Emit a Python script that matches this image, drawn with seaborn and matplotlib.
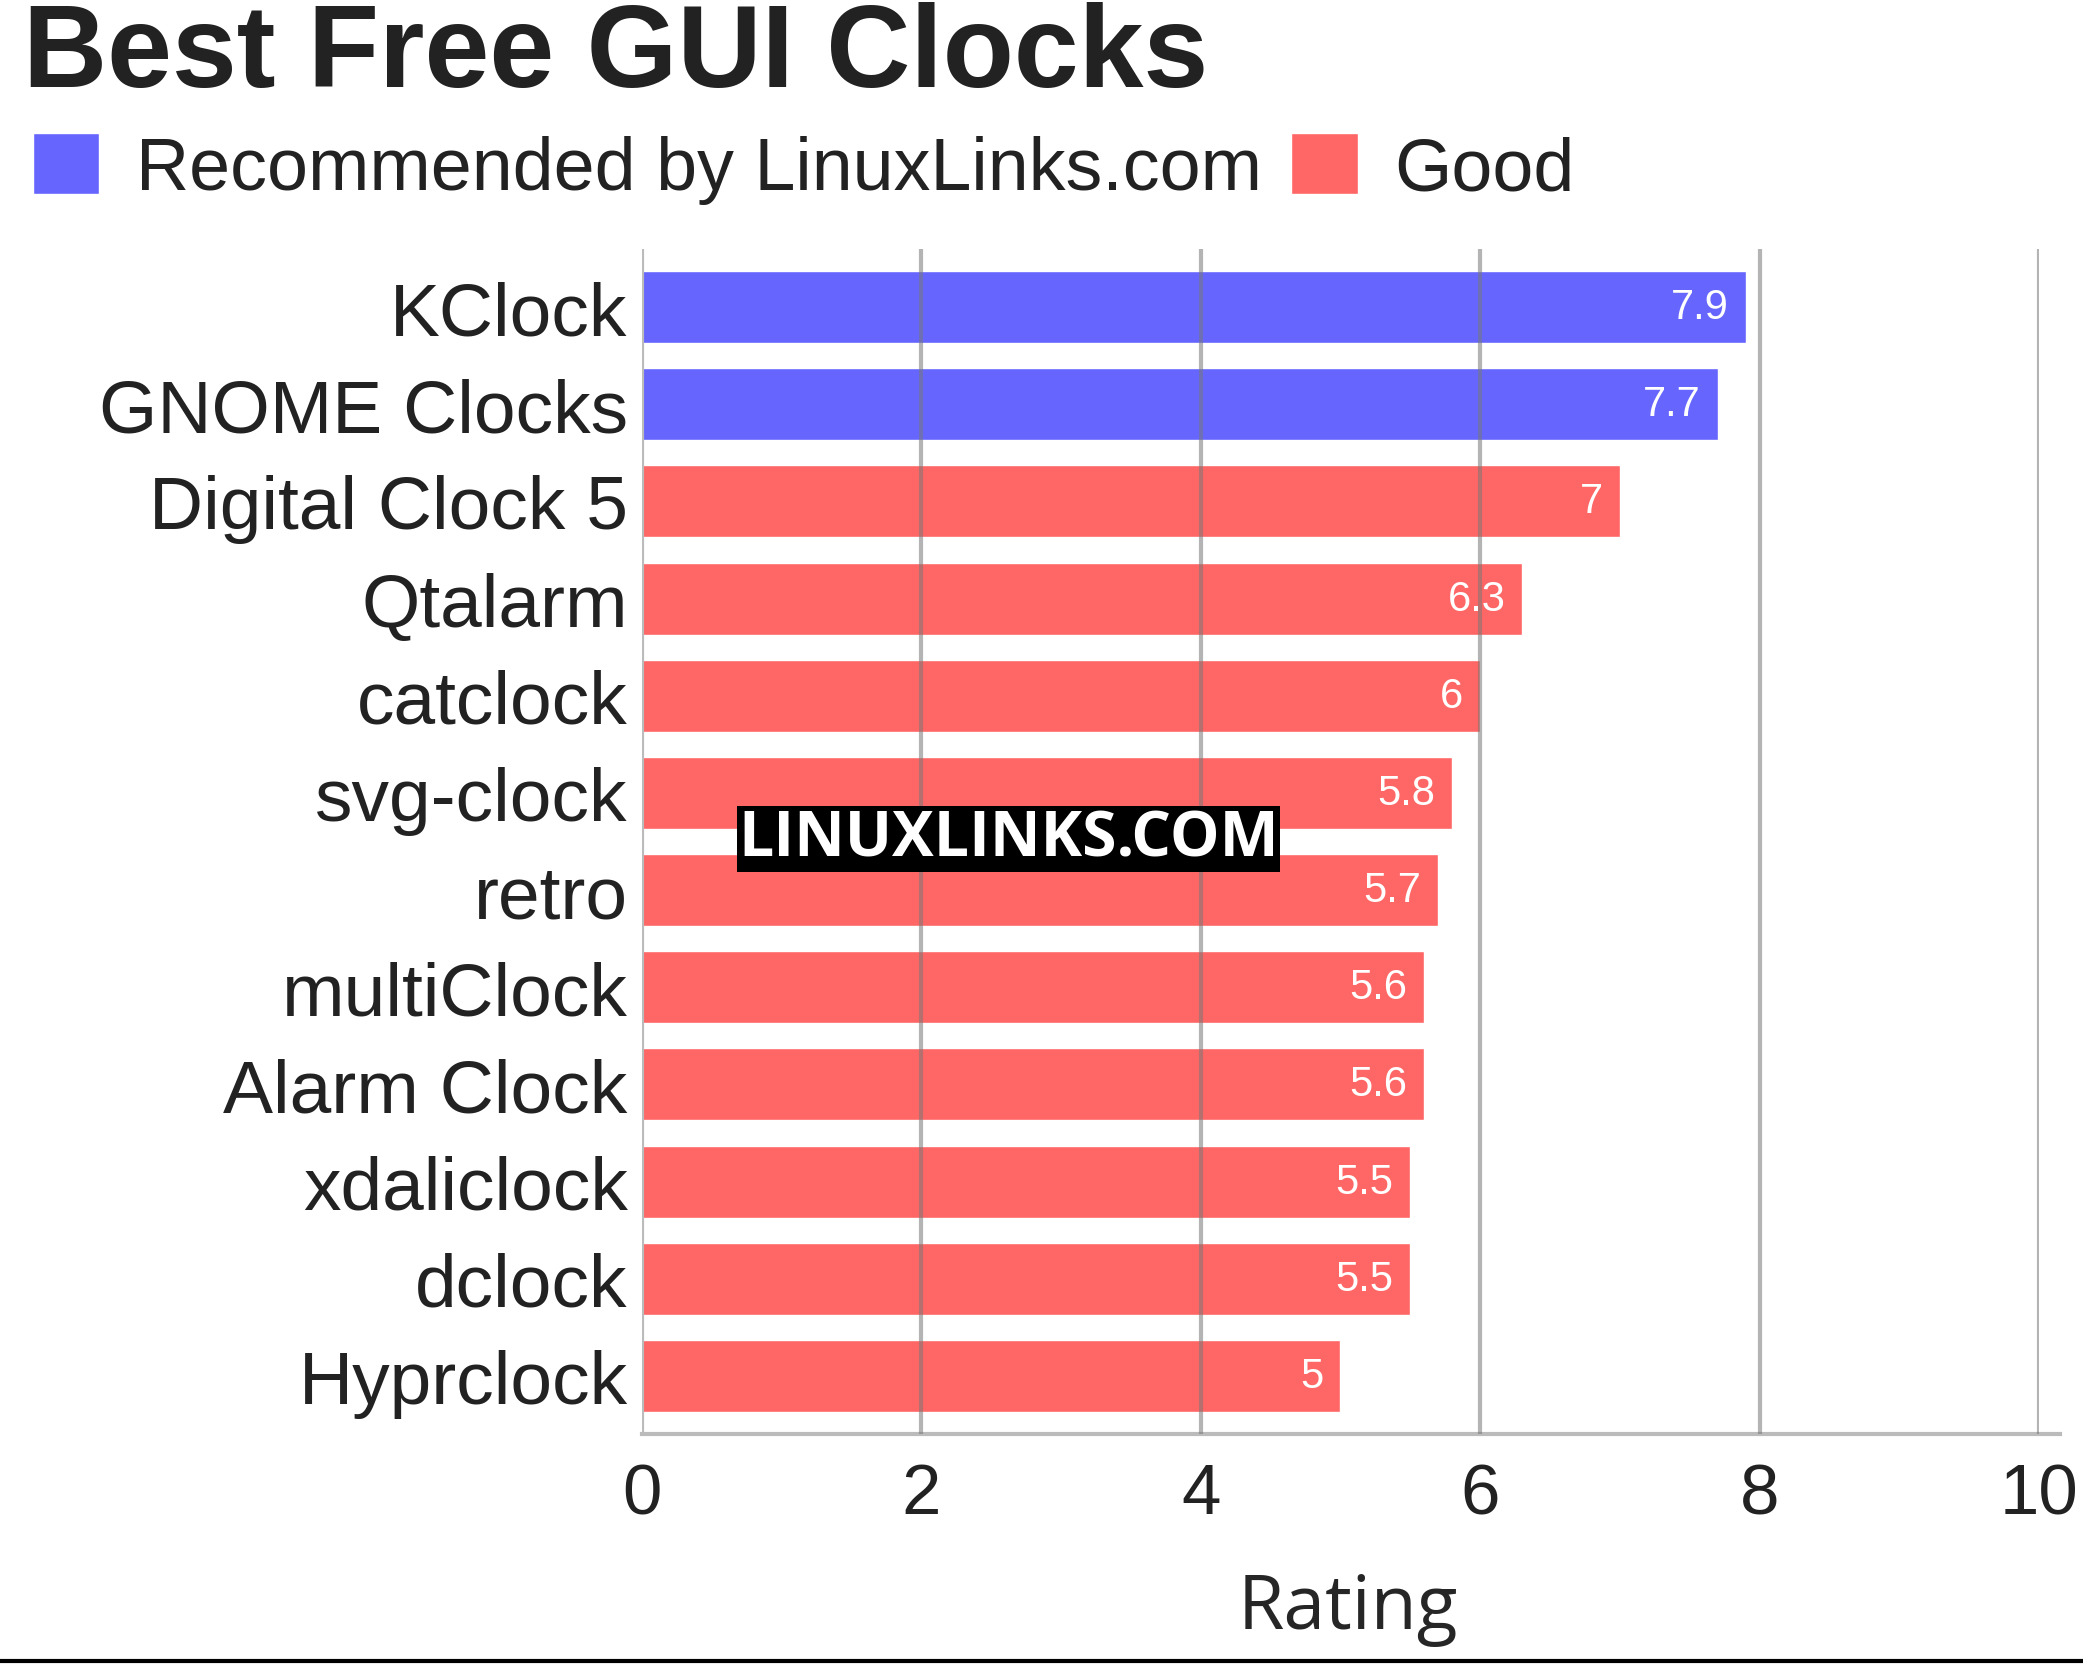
import matplotlib
matplotlib.use("Agg")
import matplotlib.pyplot as plt
import seaborn as sns
import pandas as pd
from matplotlib.patches import Patch
from matplotlib.lines import Line2D

names = ["KClock", "GNOME Clocks", "Digital Clock 5", "Qtalarm", "catclock", "svg-clock",
         "retro", "multiClock", "Alarm Clock", "xdaliclock", "dclock", "Hyprclock"]
ratings = [7.9, 7.7, 7.0, 6.3, 6.0, 5.8, 5.7, 5.6, 5.6, 5.5, 5.5, 5.0]
groups = ["Recommended by LinuxLinks.com"] * 2 + ["Good"] * 10
palette = {"Recommended by LinuxLinks.com": "#6666ff", "Good": "#ff6666"}

df = pd.DataFrame({"name": names, "rating": ratings, "group": groups})

sns.set_style("white")
plt.rcParams["font.family"] = ["Liberation Sans", "DejaVu Sans"]

fig = plt.figure(figsize=(20.83, 16.65), dpi=100)
ax = fig.add_axes([0.308, 0.138, 0.671, 0.712])
sns.barplot(data=df, y="name", x="rating", hue="group", palette=palette, dodge=False,
            width=0.74, saturation=1, legend=False, ax=ax)
ax.set_xlim(0, 10)
ax.set_xticks([0, 2, 4, 6, 8, 10])
ax.set_xticklabels(["0", "2", "4", "6", "8", "10"])
for x in [2, 4, 6, 8, 10]:
    ax.axvline(x, color="#777777", alpha=0.55, lw=3, zorder=5)
ax.axvline(0, color="#bbbbbb", lw=3, zorder=5)
for s in ["top", "right", "left"]:
    ax.spines[s].set_visible(False)
ax.spines["bottom"].set_color("#bbbbbb")
ax.spines["bottom"].set_linewidth(3)
ax.spines["bottom"].set_bounds(0, 10.15)
ax.spines["bottom"].set_clip_on(False)
ax.tick_params(axis="y", labelsize=54, length=0, pad=10, colors="#222222")
ax.tick_params(axis="x", labelsize=51, length=0, pad=20, colors="#222222")
ax.set_ylabel("")
ax.set_xlabel("Rating", fontsize=54, family="Open Sans", labelpad=36)
ax.xaxis.set_label_coords(0.505, -0.115)
ax.set_ylim(len(names) - 0.5 + 0.1, -0.5 - 0.1)

for i, v in enumerate(ratings):
    ax.text(v - 0.12, i, f"{v:g}", ha="right", va="center", color="white", fontsize=30, zorder=6)

ax.text(0.069, 0.502, "LINUXLINKS.COM", transform=ax.transAxes, fontsize=45, fontweight="bold",
        family="Open Sans", color="white", va="center", zorder=7,
        bbox=dict(facecolor="black", edgecolor="none", pad=1))

fig.text(0.011, 0.948, "Best Free GUI Clocks", fontsize=84, fontweight="bold", color="#222222",
         va="baseline", ha="left")
handles = [Patch(facecolor=palette[k], label=k) for k in palette]
fig.legend(handles=handles, loc="center left", bbox_to_anchor=(-0.016, 0.898), ncol=2,
           frameon=False, fontsize=53, handlelength=0.9, handleheight=0.9,
           handletextpad=0.5, columnspacing=0.4, labelcolor="#222222")
fig.add_artist(Line2D([0, 1], [0.002, 0.002], color="black", lw=3, transform=fig.transFigure))

fig.savefig("out.png", dpi=100, facecolor="white")
